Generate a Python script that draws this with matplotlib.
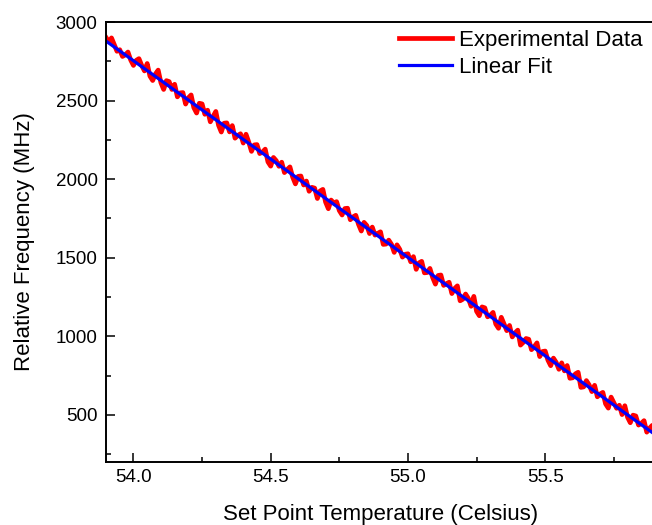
import numpy as np
import matplotlib.pyplot as plt

plt.rcParams['font.family'] = ['Liberation Sans', 'DejaVu Sans']

# =============================
# Data
# =============================

# set point temperature, 0.01 C steps from 53.90 to 55.90
temp = np.round(np.arange(53.90, 55.905, 0.01), 2)

freq = [
    2902, 2875, 2899, 2856, 2814, 2824, 2781, 2791, 2809, 2758,
    2724, 2756, 2767, 2724, 2689, 2736, 2656, 2628, 2669, 2694,
    2614, 2571, 2627, 2621, 2571, 2604, 2524, 2549, 2551, 2478,
    2518, 2536, 2455, 2421, 2483, 2479, 2413, 2439, 2365, 2399,
    2431, 2343, 2300, 2356, 2358, 2301, 2341, 2261, 2278, 2289,
    2230, 2286, 2236, 2177, 2218, 2220, 2163, 2173, 2191, 2110,
    2083, 2138, 2118, 2082, 2108, 2042, 2061, 2078, 2013, 1970,
    2018, 2020, 1963, 1988, 1923, 1948, 1943, 1877, 1925, 1935,
    1854, 1812, 1867, 1848, 1857, 1800, 1772, 1813, 1815, 1742,
    1760, 1770, 1712, 1670, 1725, 1705, 1654, 1695, 1644, 1655,
    1665, 1585, 1587, 1612, 1585, 1534, 1582, 1554, 1504, 1522,
    1525, 1474, 1507, 1426, 1467, 1477, 1404, 1406, 1432, 1374,
    1332, 1387, 1390, 1324, 1335, 1344, 1272, 1304, 1321, 1226,
    1236, 1269, 1241, 1191, 1254, 1159, 1131, 1187, 1181, 1124,
    1134, 1152, 1078, 1051, 1121, 1079, 1036, 1069, 996, 1022,
    1039, 944, 961, 986, 981, 915, 934, 958, 871, 903,
    906, 848, 813, 861, 834, 790, 831, 780, 814, 733,
    736, 761, 771, 675, 678, 718, 691, 648, 688, 615,
    633, 643, 570, 543, 613, 578, 542, 561, 502, 558,
    485, 450, 498, 493, 435, 446, 463, 390, 415, 433,
    345,
]

# linear fit end points
fit_x = [53.90, 55.90]
fit_y = [2879, 375]

# =============================
# Plot
# =============================

fig = plt.figure(figsize=(6.52, 5.25), dpi=100)
ax = fig.add_axes([0.1626, 0.12, 0.8420, 0.838])

ax.plot(temp, freq, color="#ff0000", lw=3.4, label="Experimental Data")
ax.plot(fit_x, fit_y, color="#0000ff", lw=2.3, label="Linear Fit")

ax.set_xlim(53.9, 55.9)
ax.set_ylim(200, 3000)
ax.set_xticks([54.0, 54.5, 55.0, 55.5])
ax.set_xticks(np.arange(54.25, 55.9, 0.5), minor=True)
ax.set_yticks([500, 1000, 1500, 2000, 2500, 3000])
ax.set_yticks([250, 750, 1250, 1750, 2250, 2750], minor=True)

ax.tick_params(which="both", direction="in", width=1.1, labelsize=13.5)
ax.tick_params(which="major", length=6.5)
ax.tick_params(which="minor", length=3.5)
ax.tick_params(axis="x", pad=5)
ax.tick_params(axis="y", pad=6)
for s in ax.spines.values():
    s.set_linewidth(1.4)

ax.set_xlabel("Set Point Temperature (Celsius)", fontsize=16, labelpad=13)
ax.set_ylabel("Relative Frequency (MHz)", fontsize=16, labelpad=15)

ax.legend(loc="upper right", bbox_to_anchor=(0.985, 0.993), frameon=False,
          fontsize=16, handlelength=2.4, handletextpad=0.3,
          labelspacing=0.28, borderaxespad=0.0, borderpad=0.2)

fig.savefig("out.png", dpi=100)
